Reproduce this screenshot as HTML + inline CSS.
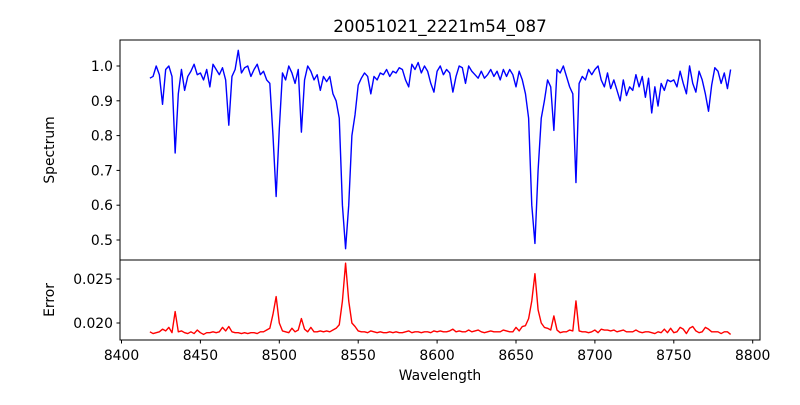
<!DOCTYPE html>
<html><head><meta charset="utf-8"><style>
body{margin:0;background:#fff;}
svg text{font-family:"DejaVu Sans","Liberation Sans",sans-serif;fill:#000;}
</style></head><body>
<svg id="chart" width="800" height="400" xmlns="http://www.w3.org/2000/svg">
<rect width="800" height="400" fill="#fff"/>
<text x="440" y="32" font-size="16.7" text-anchor="middle">20051021_2221m54_087</text>
<g id="topg"></g><g id="botg"></g>
</svg>
<script>
const waveStart = 8418, waveStep = 2;
const spectrum = [0.965,0.97,1.0,0.975,0.89,0.99,1.0,0.97,0.75,0.92,0.99,0.93,0.97,0.985,1.005,0.975,0.98,0.96,0.99,0.94,1.005,0.99,0.975,0.995,0.96,0.83,0.97,0.99,1.045,0.98,0.995,1.0,0.97,0.99,1.005,0.975,0.985,0.96,0.95,0.80,0.625,0.82,0.98,0.96,1.0,0.98,0.95,0.99,0.81,0.96,1.0,0.985,0.96,0.975,0.93,0.97,0.955,0.97,0.92,0.90,0.85,0.60,0.475,0.60,0.80,0.86,0.945,0.965,0.98,0.97,0.92,0.97,0.96,0.98,0.975,0.99,0.97,0.985,0.98,0.995,0.99,0.96,0.94,1.005,0.99,1.01,0.98,1.0,0.985,0.95,0.925,0.985,1.0,0.975,0.99,0.98,0.925,0.97,1.0,0.995,0.95,1.0,0.985,0.975,0.965,0.985,0.965,0.975,0.99,0.97,0.985,0.96,0.99,0.97,0.99,0.975,0.94,0.985,0.96,0.92,0.85,0.60,0.49,0.70,0.85,0.90,0.96,0.94,0.815,0.99,0.98,1.0,0.97,0.94,0.92,0.665,0.95,0.97,0.96,0.99,0.975,0.99,1.0,0.96,0.94,0.98,0.935,0.96,0.93,0.90,0.96,0.915,0.94,0.93,0.975,0.94,0.97,0.91,0.965,0.865,0.94,0.885,0.95,0.93,0.96,0.955,0.96,0.94,0.985,0.95,0.92,1.0,0.95,0.925,0.985,0.96,0.92,0.87,0.945,0.995,0.985,0.95,0.98,0.935,0.99];
const errorVals = [.0190,.0188,.0189,.0190,.0193,.0191,.0195,.0189,.0213,.0190,.0191,.0189,.0188,.0190,.0188,.0192,.0189,.0187,.0189,.0189,.0190,.0189,.0190,.0195,.0191,.0196,.0190,.0189,.0189,.0188,.0189,.0188,.0189,.0189,.0188,.0190,.0190,.0192,.0194,.0210,.0230,.0200,.0191,.0190,.0189,.0194,.0190,.0192,.0205,.0193,.0190,.0195,.0190,.0190,.0191,.0190,.0191,.0190,.0192,.0194,.0198,.0225,.0268,.0225,.0200,.0196,.0191,.0190,.0190,.0189,.0191,.0190,.0189,.0190,.0189,.0189,.0190,.0189,.0190,.0189,.0189,.0190,.0191,.0189,.0190,.0190,.0189,.0190,.0190,.0189,.0191,.0190,.0191,.0190,.0190,.0191,.0193,.0190,.0191,.0190,.0190,.0192,.0190,.0191,.0192,.0190,.0189,.0190,.0191,.0190,.0190,.0190,.0192,.0191,.0190,.0190,.0195,.0191,.0196,.0197,.0205,.0225,.0256,.0215,.0200,.0195,.0194,.0192,.0208,.0192,.0189,.0190,.0190,.0192,.0191,.0225,.0191,.0190,.0190,.0189,.0190,.0192,.0189,.0193,.0192,.0192,.0191,.0192,.0190,.0191,.0192,.0190,.0190,.0190,.0192,.0190,.0189,.0190,.0190,.0189,.0188,.0190,.0189,.0193,.0189,.0194,.0189,.0190,.0195,.0193,.0188,.0194,.0196,.0191,.0189,.0190,.0195,.0193,.0190,.0190,.0190,.0188,.0190,.0190,.0187];
const xTicks = [8400,8450,8500,8550,8600,8650,8700,8750,8800];
const specTicks = [0.5,0.6,0.7,0.8,0.9,1.0];
const errTicks = [0.020,0.025];

const NS="http://www.w3.org/2000/svg";
const X0=120,X1=760;
const xs = w => 121.5 + (w-8400)*1.578;
const ysTop = v => 66 + (1.0-v)*348;
const ysBot = v => 323 - (v-0.020)*8800;
function mk(tag,attrs,parent){const e=document.createElementNS(NS,tag);for(const k in attrs)e.setAttribute(k,attrs[k]);parent.appendChild(e);return e;}
const topG=document.getElementById('topg'), botG=document.getElementById('botg');

function linePath(vals,yf){return vals.map((v,i)=>(i?'L':'M')+xs(waveStart+i*waveStep).toFixed(2)+' '+yf(v).toFixed(2)).join(' ');}

const p1=mk('path',{d:linePath(spectrum,ysTop),fill:'none',stroke:'#0000ff','stroke-width':1.4,'stroke-linejoin':'round'},topG);


const p2=mk('path',{d:linePath(errorVals,ysBot),fill:'none',stroke:'#ff0000','stroke-width':1.4,'stroke-linejoin':'round'},botG);



const f1=mk('rect',{x:X0,y:40,width:X1-X0,height:220,fill:'none',stroke:'#000','stroke-width':1},topG);


const f2=mk('rect',{x:X0,y:260,width:X1-X0,height:80,fill:'none',stroke:'#000','stroke-width':1},botG);



specTicks.forEach(t=>{const y=ysTop(t);
 mk('line',{x1:X0-3.5,x2:X0,y1:y,y2:y,stroke:'#000'},topG);
 const tx=mk('text',{x:X0-7,y:y+5,'font-size':13.9,'text-anchor':'end'},topG);tx.textContent=t.toFixed(1);
 
 });
errTicks.forEach(t=>{const y=ysBot(t);
 mk('line',{x1:X0-3.5,x2:X0,y1:y,y2:y,stroke:'#000'},botG);
 const tx=mk('text',{x:X0-7,y:y+5,'font-size':13.9,'text-anchor':'end'},botG);tx.textContent=t.toFixed(3);
 
 });
xTicks.forEach(t=>{const x=xs(t);
 mk('line',{x1:x,x2:x,y1:340,y2:343.5,stroke:'#000'},botG);
 const tx=mk('text',{x:x,y:360,'font-size':13.9,'text-anchor':'middle'},botG);tx.textContent=t;
 
 });

const xl=mk('text',{x:440,y:380,'font-size':13.9,'text-anchor':'middle'},botG);xl.textContent='Wavelength';


const yl1=mk('text',{x:0,y:0,'font-size':13.9,'text-anchor':'middle',transform:'translate(54,150) rotate(-90)'},topG);yl1.textContent='Spectrum';


const yl2=mk('text',{x:0,y:0,'font-size':13.9,'text-anchor':'middle',transform:'translate(54,300) rotate(-90)'},botG);yl2.textContent='Error';


</script>
</body></html>
